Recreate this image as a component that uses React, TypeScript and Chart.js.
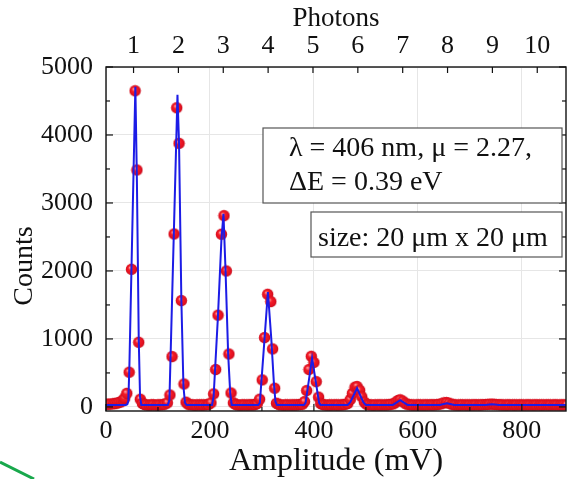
import React, { useEffect, useRef } from "react";
import { Chart, registerables } from "chart.js";

Chart.register(...registerables);

// Measured pulse-height spectrum (red points)
const amplitudeMv = [
  0, 4, 8, 13, 17, 21, 25, 29, 33, 36,
  40, 44.5, 49, 56, 59.5, 63, 66, 70,
  74, 78, 83, 87, 91, 96, 100, 104, 109, 113,
  118, 123, 127, 131, 136, 140.5, 145, 150, 154, 158,
  162, 167, 171, 175, 180, 184, 188, 193, 197,
  202, 207, 211, 215.5, 222, 227, 231.5, 236.5, 240.5, 245, 249,
  253, 258, 262, 266, 271, 275, 279, 283, 287,
  291, 295.5, 300.5, 305, 311, 317, 320.5, 324.5, 328, 332,
  336, 341, 345, 349, 354, 358, 362, 366, 370, 374,
  378, 382, 386, 390.5, 395, 400, 404.5, 409, 413, 417,
  421, 426, 430, 434, 439, 443, 447, 452, 456, 460,
  465, 470, 474, 479, 483, 488, 492, 497, 501,
  505, 510, 514, 518, 523, 527, 531, 536, 540, 544, 548,
  553, 558, 562, 566, 571, 575, 579,
  584, 588, 592, 597, 601, 605, 610, 614, 618, 623, 627, 631, 636, 640,
  645, 650, 655, 660, 665,
  669, 673, 678, 682, 686, 691, 695, 699, 704, 708,
  712, 717, 721, 725, 730, 734, 738, 743, 747, 751,
  756, 760, 764, 769, 773, 777, 782, 786, 790, 795,
  799, 803, 808, 812, 816, 821, 825, 829, 834, 838,
  842, 847, 851, 855, 860, 864, 868, 873, 877, 881, 886,
];
const counts = [
  40, 40, 42, 45, 50, 55, 65, 75, 100, 130,
  200, 510, 2025, 4650, 3485, 951, 113, 50,
  35, 30, 28, 30, 32, 28, 30, 31, 33, 40,
  60, 176, 740, 2544, 4400, 3877, 1564, 338, 70, 40,
  32, 30, 28, 30, 31, 29, 30, 32, 35,
  60, 191, 550, 1350, 2540, 2813, 2000, 779, 205, 60, 38,
  30, 28, 30, 31, 29, 30, 32, 30, 35,
  50, 113, 397, 1020, 1657, 1549, 853, 275, 54, 38,
  30, 28, 30, 31, 29, 30, 31, 30, 33, 36,
  40, 78, 240, 550, 745, 655, 372, 145, 50, 35,
  30, 28, 30, 29, 31, 30, 29, 30, 32, 38,
  50, 110, 200, 290, 300, 245, 150, 70, 40,
  32, 30, 28, 30, 31, 29, 30, 30, 31, 33, 38,
  45, 70, 95, 105, 85, 55, 40,
  32, 30, 29, 30, 31, 30, 29, 30, 31, 30, 32, 30, 34, 38,
  45, 60, 65, 55, 40,
  32, 30, 29, 30, 31, 30, 29, 30, 31, 30,
  32, 30, 31, 33, 35, 37, 40, 41, 38, 35,
  33, 31, 30, 29, 30, 31, 30, 29, 30, 31,
  30, 29, 30, 31, 30, 29, 30, 31, 30, 29,
  30, 31, 30, 29, 30, 31, 30, 29, 30, 31, 30,
];

// Fitted curve (blue line)
const fitMv = [
  0, 38, 41, 43, 45, 56.5, 59.5, 63, 65.5, 68,
  119, 122, 131, 137.5, 140.5, 145, 149, 152, 155,
  204, 207, 215.5, 222, 226, 230, 235, 239, 242,
  293, 296, 305, 311.5, 318, 323, 326, 329,
  381, 384, 396.5, 410, 413,
  465, 470, 483, 495, 500,
  552, 566, 580,
  642, 656, 670,
  730, 743, 756,
  886,
];
const fitCounts = [
  30, 30, 40, 90, 600, 4710, 3300, 1000, 150, 30,
  30, 100, 2700, 4590, 3877, 1564, 300, 60, 30,
  30, 150, 1350, 2450, 2840, 2000, 780, 200, 30,
  30, 60, 1000, 1690, 1000, 350, 80, 30,
  30, 60, 716, 60, 30,
  30, 70, 275, 70, 30,
  30, 100, 30,
  30, 55, 30,
  30, 38, 30,
  30,
];

const xTicks = [0, 200, 400, 600, 800];
const xMinorTicks = [100, 300, 500, 700];
const yTicks = [0, 1000, 2000, 3000, 4000, 5000];
const yMinorTicks = [500, 1500, 2500, 3500, 4500];
const photonTicks = [1, 2, 3, 4, 5, 6, 7, 8, 9, 10];

const X_MIN = 0;
const X_MAX = 885;
const Y_MIN = -60;
const Y_MAX = 5000;
const PHOTON1_MV = 53;
const MV_PER_PHOTON = 86.3;

const infoLines = ["λ = 406 nm, μ = 2.27,", "ΔE = 0.39 eV"];
const sizeLabel = "size: 20 μm x 20 μm";
const yTitle = "Counts";

const SERIF = "'Liberation Serif', 'Times New Roman', serif";

function makeSphere(r: number) {
  const s = Math.ceil(r * 2) + 1;
  const c = document.createElement("canvas");
  c.width = s;
  c.height = s;
  const g = c.getContext("2d")!;
  const cx = s / 2;
  const cy = s / 2;
  const grad = g.createRadialGradient(cx - r * 0.3, cy - r * 0.35, 0, cx, cy, r);
  grad.addColorStop(0, "#ffb0b4");
  grad.addColorStop(0.4, "#f41c26");
  grad.addColorStop(0.85, "#e01020");
  grad.addColorStop(1, "#c00818");
  g.fillStyle = grad;
  g.beginPath();
  g.arc(cx, cy, r, 0, Math.PI * 2);
  g.fill();
  return c;
}

const noPad = (s: any) => {
  s.paddingLeft = 0;
  s.paddingRight = 0;
  s.paddingTop = 0;
  s.paddingBottom = 0;
};

const framePlugin = {
  id: "frameTicks",
  afterDatasetsDraw(chart: any) {
    const { ctx, chartArea: a, scales } = chart;
    ctx.save();
    ctx.strokeStyle = "#111";
    ctx.lineWidth = 1.4;
    ctx.strokeRect(a.left, a.top, a.right - a.left, a.bottom - a.top);
    const seg = (x1: number, y1: number, x2: number, y2: number) => {
      ctx.beginPath();
      ctx.moveTo(x1, y1);
      ctx.lineTo(x2, y2);
      ctx.stroke();
    };
    ctx.lineWidth = 1.2;
    for (const v of yTicks) {
      const y = scales.y.getPixelForValue(v);
      seg(a.left, y, a.left + 7, y);
      seg(a.right, y, a.right - 7, y);
    }
    for (const v of yMinorTicks) {
      const y = scales.y.getPixelForValue(v);
      seg(a.left, y, a.left + 4, y);
      seg(a.right, y, a.right - 4, y);
    }
    for (const v of xTicks) {
      const x = scales.x.getPixelForValue(v);
      seg(x, a.bottom, x, a.bottom - 7);
    }
    for (const v of xMinorTicks) {
      const x = scales.x.getPixelForValue(v);
      seg(x, a.bottom, x, a.bottom - 4);
    }
    for (const p of photonTicks) {
      const x = scales.x2.getPixelForValue(p);
      seg(x, a.top, x, a.top + 6);
    }
    ctx.restore();
  },
  afterDraw(chart: any) {
    const { ctx, chartArea: a, height } = chart;
    ctx.save();
    const b1 = { l: a.left + 157, t: a.top + 61, r: a.right - 4, b: a.top + 136 };
    const b2 = { l: a.left + 205, t: a.top + 145, r: a.right - 4, b: a.top + 190 };
    ctx.fillStyle = "#fff";
    ctx.strokeStyle = "#555";
    ctx.lineWidth = 1.2;
    for (const b of [b1, b2]) {
      ctx.fillRect(b.l, b.t, b.r - b.l, b.b - b.t);
      ctx.strokeRect(b.l, b.t, b.r - b.l, b.b - b.t);
    }
    ctx.fillStyle = "#111";
    ctx.font = `28px ${SERIF}`;
    ctx.textBaseline = "alphabetic";
    ctx.textAlign = "left";
    ctx.fillText(infoLines[0], b1.l + 26, a.top + 89);
    ctx.fillText(infoLines[1], b1.l + 26, a.top + 123);
    ctx.fillText(sizeLabel, b2.l + 7, a.top + 179);
    // y-axis title
    ctx.save();
    ctx.translate(25, a.top + 199);
    ctx.rotate(-Math.PI / 2);
    ctx.textAlign = "center";
    ctx.textBaseline = "middle";
    ctx.font = `28px ${SERIF}`;
    ctx.fillText(yTitle, 0, 0);
    ctx.restore();
    // green stroke in the lower-left corner
    ctx.strokeStyle = "#18a84c";
    ctx.lineWidth = 3;
    ctx.beginPath();
    ctx.moveTo(0, height - 17);
    ctx.lineTo(34, height);
    ctx.stroke();
    ctx.restore();
  },
};

export default function App() {
  const ref = useRef<HTMLCanvasElement | null>(null);
  useEffect(() => {
    const canvas = ref.current;
    if (!canvas) return;
    const sphere = makeSphere(5.7);
    const plain = (v: any) => String(v);
    const chart = new Chart(canvas, {
      data: {
        datasets: [
          {
            type: "line",
            data: fitMv.map((x, i) => ({ x, y: fitCounts[i] })),
            borderColor: "rgb(28,28,230)",
            borderWidth: 2,
            pointRadius: 0,
            tension: 0,
            clip: 0,
            xAxisID: "x",
            yAxisID: "y",
          } as any,
          {
            type: "scatter",
            data: amplitudeMv.map((x, i) => ({ x, y: counts[i] })),
            pointStyle: sphere as any,
            pointRadius: 5.7,
            showLine: false,
            clip: 0,
            xAxisID: "x",
            yAxisID: "y",
          } as any,
        ],
      },
      options: {
        responsive: false,
        animation: false,
        events: [],
        layout: { autoPadding: false, padding: { left: 0, right: 1, top: 0, bottom: 0 } },
        plugins: { legend: { display: false }, tooltip: { enabled: false } },
        scales: {
          x: {
            type: "linear",
            position: "bottom",
            min: X_MIN,
            max: X_MAX,
            afterBuildTicks: (s: any) => {
              s.ticks = xTicks.map((v) => ({ value: v }));
            },
            afterFit: (s: any) => {
              s.height = 68;
              noPad(s);
            },
            ticks: {
              color: "#111",
              font: { family: SERIF, size: 26 },
              padding: 5,
              maxRotation: 0,
              autoSkip: false,
              callback: plain,
            },
            grid: { color: "#e6e6e6", lineWidth: 1, drawTicks: false },
            border: { display: false },
            title: {
              display: true,
              text: "Amplitude (mV)",
              color: "#111",
              font: { family: SERIF, size: 32 },
              padding: { top: 0, bottom: -2 },
            },
          },
          x2: {
            type: "linear",
            position: "top",
            min: 1 + (X_MIN - PHOTON1_MV) / MV_PER_PHOTON,
            max: 1 + (X_MAX - PHOTON1_MV) / MV_PER_PHOTON,
            afterBuildTicks: (s: any) => {
              s.ticks = photonTicks.map((v) => ({ value: v }));
            },
            afterFit: (s: any) => {
              s.height = 67;
              noPad(s);
            },
            ticks: {
              color: "#111",
              font: { family: SERIF, size: 26 },
              padding: 5,
              maxRotation: 0,
              autoSkip: false,
              callback: plain,
            },
            grid: { display: false, drawTicks: false },
            border: { display: false },
            title: {
              display: true,
              text: "Photons",
              color: "#111",
              font: { family: SERIF, size: 27 },
              padding: { top: 3, bottom: 0 },
            },
          },
          y: {
            type: "linear",
            min: Y_MIN,
            max: Y_MAX,
            afterBuildTicks: (s: any) => {
              s.ticks = yTicks.map((v) => ({ value: v }));
            },
            afterFit: (s: any) => {
              s.width = 106;
              noPad(s);
            },
            ticks: {
              color: "#111",
              font: { family: SERIF, size: 26 },
              padding: 13,
              autoSkip: false,
              callback: plain,
            },
            grid: { color: "#e6e6e6", lineWidth: 1, drawTicks: false },
            border: { display: false },
            title: { display: false },
          },
        },
      },
      plugins: [framePlugin],
    } as any);
    return () => chart.destroy();
  }, []);
  return (
    <div style={{ position: "fixed", left: 0, top: 0, width: 567, height: 479, background: "#fff" }}>
      <canvas ref={ref} width={567} height={479} style={{ display: "block" }} />
    </div>
  );
}
